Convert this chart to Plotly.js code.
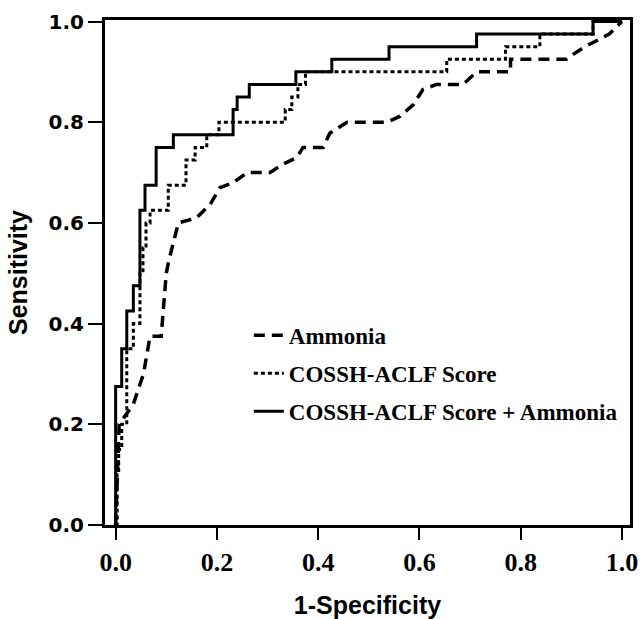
<!DOCTYPE html>
<html>
<head>
<meta charset="utf-8">
<script src="https://cdn.plot.ly/plotly-3.0.1.min.js"></script>
<style>html,body{margin:0;padding:0;background:#fff;}#chart{width:643px;height:619px;}</style>
</head>
<body>
<div id="chart"></div>
<script>
// Series names
const seriesNames = ["Ammonia", "COSSH-ACLF Score", "COSSH-ACLF Score + Ammonia"];

// Ammonia (dashed)
const ammoniaX = [0, 0.003, 0.007, 0.035, 0.055, 0.068, 0.09, 0.1, 0.105, 0.124, 0.16, 0.187, 0.206, 0.232, 0.26, 0.305, 0.331, 0.358, 0.37, 0.41, 0.423, 0.457, 0.536, 0.562, 0.588, 0.607, 0.634, 0.686, 0.713, 0.74, 0.78, 0.78, 0.89, 0.907, 0.927, 0.975, 1.0];
const ammoniaY = [0, 0.1, 0.2, 0.24, 0.3, 0.375, 0.375, 0.5, 0.525, 0.6, 0.61, 0.637, 0.67, 0.68, 0.7, 0.7, 0.717, 0.73, 0.75, 0.75, 0.778, 0.8, 0.8, 0.812, 0.835, 0.865, 0.875, 0.875, 0.9, 0.9, 0.9, 0.925, 0.925, 0.937, 0.95, 0.975, 1.0];

// COSSH-ACLF Score (dotted) - step corners
const cosshX = [0, 0.003, 0.006, 0.012, 0.022, 0.035, 0.048, 0.054, 0.06, 0.068, 0.104, 0.139, 0.157, 0.18, 0.204, 0.335, 0.348, 0.36, 0.375, 0.654, 0.77, 0.838, 0.943, 1.0];
const cosshY = [0, 0.1, 0.15, 0.2, 0.35, 0.4, 0.5, 0.55, 0.6, 0.625, 0.675, 0.725, 0.75, 0.775, 0.8, 0.825, 0.85, 0.875, 0.9, 0.925, 0.95, 0.975, 1.0, 1.0];

// COSSH-ACLF Score + Ammonia (solid) - step corners
const comboX = [0, 0, 0.012, 0.022, 0.035, 0.048, 0.058, 0.08, 0.114, 0.232, 0.24, 0.264, 0.356, 0.427, 0.54, 0.713, 0.943, 1.0];
const comboY = [0, 0.275, 0.35, 0.425, 0.475, 0.625, 0.675, 0.75, 0.775, 0.825, 0.85, 0.875, 0.9, 0.925, 0.95, 0.975, 1.0, 1.0];

// Tick values
const tickVals = [0, 0.2, 0.4, 0.6, 0.8, 1.0];

const traces = [
  {x: ammoniaX, y: ammoniaY, name: seriesNames[0], mode: "lines", legendgroup: "a",
   line: {color: "#000", width: 3.5, dash: "11px,7px", shape: "linear"}},
  {x: cosshX, y: cosshY, name: seriesNames[1], mode: "lines", legendgroup: "b",
   line: {color: "#000", width: 3, dash: "4px,3px", shape: "hv"}},
  {x: comboX, y: comboY, name: seriesNames[2], mode: "lines", legendgroup: "c",
   line: {color: "#000", width: 3, shape: "hv"}}
];

const layout = {
  width: 643, height: 619,
  margin: {l: 105, r: 13, t: 20, b: 94},
  paper_bgcolor: "#fff", plot_bgcolor: "#fff",
  showlegend: true,
  legend: {
    x: 0.274, y: 0.418, xanchor: "left", yanchor: "top",
    bgcolor: "rgba(0,0,0,0)", borderwidth: 0,
    font: {family: "Liberation Serif", size: 23, color: "#000", weight: "bold"},
    tracegroupgap: 5, itemwidth: 30
  },
  xaxis: {
    range: [-0.021, 1.016], tickvals: tickVals, tickformat: ".1f",
    showgrid: false, zeroline: false,
    showline: true, linecolor: "#000", linewidth: 3, mirror: true,
    ticks: "outside", ticklen: 12, tickwidth: 2, tickcolor: "#000",
    tickfont: {family: "Liberation Serif", size: 26, color: "#000", weight: "bold"},
    title: {text: "1-Specificity", standoff: 22,
      font: {family: "Liberation Sans", size: 25, color: "#000", weight: "bold"}},
    automargin: false
  },
  yaxis: {
    range: [0, 1.003], tickvals: tickVals, tickformat: ".1f",
    showgrid: false, zeroline: false,
    showline: true, linecolor: "#000", linewidth: 3, mirror: true,
    ticks: "outside", ticklen: 14, tickwidth: 2, tickcolor: "#000",
    tickfont: {family: "DejaVu Sans", size: 20, color: "#000", weight: "bold"},
    title: {text: "Sensitivity", standoff: 14,
      font: {family: "Liberation Sans", size: 25, color: "#000", weight: "bold"}},
    automargin: false
  }
};

Plotly.newPlot("chart", traces, layout, {displayModeBar: false, staticPlot: true});
</script>
</body>
</html>
